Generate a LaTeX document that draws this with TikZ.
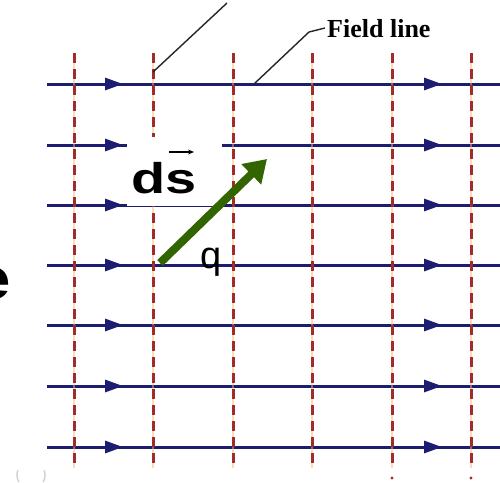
\documentclass[tikz,border=0pt]{standalone}
\usepackage{fontspec}
\setmainfont{Liberation Sans}
\newfontfamily\serifface{Liberation Serif}
\usetikzlibrary{arrows.meta}
\definecolor{fieldblue}{RGB}{28,28,112}
\definecolor{eqred}{RGB}{160,45,40}
\definecolor{eqorange}{RGB}{245,185,130}
\definecolor{arrowgreen}{RGB}{50,100,0}
\begin{document}
\begin{tikzpicture}[x=1pt,y=-1pt,
  fieldln/.style={draw=fieldblue, line width=3pt},
  fieldtip/.style={-{Triangle[length=18pt,width=12pt]}},
  equip/.style={draw=eqred, line width=3pt, dash pattern=on 10pt off 6pt},
  equipunder/.style={draw=eqorange, line width=2.8pt, opacity=0.5},
  leader/.style={draw=black!85, line width=1.4pt},
  coverbox/.style={fill=white, draw=none},
  dsvector/.style={draw=black, line width=1.6pt, -{Stealth[length=6pt,width=5pt]}},
  dispvec/.style={draw=arrowgreen, line width=8pt, -{Triangle[length=22pt,width=27pt]}},
]
\useasboundingbox (0,0) rectangle (500,482);
\fill[white] (0,0) rectangle (500,482);

% field lines
\foreach \y [count=\i] in {84,145,205,265,325,386,447} {
  \coordinate (L\i) at (47,\y);
  \coordinate (R\i) at (500,\y);
  \coordinate (A\i) at (123,\y);
  \coordinate (B\i) at (442,\y);
  \draw[fieldln] (L\i) -- (R\i);
  \draw[fieldln, fieldtip] ([xshift=-30pt]A\i) -- (A\i);
  \draw[fieldln, fieldtip] ([xshift=-30pt]B\i) -- (B\i);
}

% equipotential dashed lines
\foreach \x [count=\j] in {74,153,233,312,392,471} {
  \coordinate (T\j) at (\x,53);
  \coordinate (D\j) at (\x,468);
  \draw[equipunder] (T\j) -- (D\j);
  \draw[equip] (T\j) -- (D\j);
}
\fill[eqred] (392,478) circle (1.6pt);
\fill[eqred] (471,478) circle (1.6pt);

% faint mark bottom-left
\draw[gray!35, line width=1.5pt] (31,475) ++(150:14) arc[start angle=150, end angle=200, radius=14];
\draw[gray!35, line width=1.5pt] (31,475) ++(-20:14) arc[start angle=-20, end angle=30, radius=14];

% white label box
\fill[coverbox] (127,137) rectangle (222,206);

% ds label
\node[anchor=base west, inner sep=0pt, font=\bfseries\fontsize{43}{43}\selectfont] (ds) at (131,193) {\scalebox{1.3}[1]{ds}};
\coordinate (vs) at (169,152);
\coordinate (ve) at (194,152);
\draw[dsvector] (vs) -- (ve);

% q label
\node[anchor=base west, inner sep=0pt, font=\fontsize{38}{38}\selectfont] (q) at (200,268) {q};

% displacement arrow
\coordinate (gs) at (160,263);
\coordinate (ge) at (267,159);
\draw[dispvec] (gs) -- (ge);

% leaders
\coordinate (p1) at (153,72);
\coordinate (p2) at (227,3);
\draw[leader] (p1) -- (p2);
\coordinate (f1) at (254,84);
\coordinate (f2) at (309,32);
\coordinate (f3) at (325,28);
\draw[leader] (f1) -- (f2) -- (f3);
\node[anchor=west, inner sep=0pt, font=\serifface\bfseries\fontsize{26}{26}\selectfont] (fl) at (327,29) {Field line};

% partial e at left (cut by the edge, as in the reference)
\node[anchor=base east, inner sep=0pt, font=\bfseries\fontsize{60}{60}\selectfont] (e) at (11,299) {\scalebox{1.25}[1]{e}};
\end{tikzpicture}
\end{document}
